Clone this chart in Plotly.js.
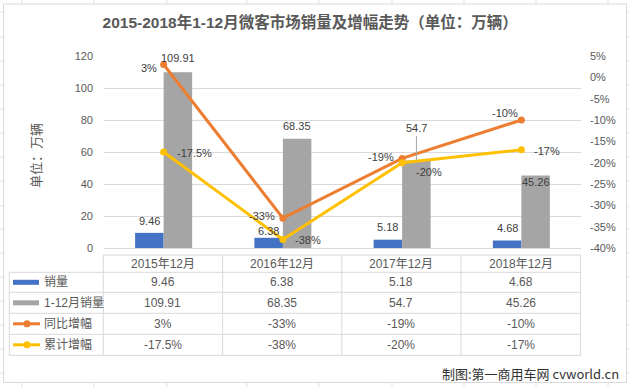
<!DOCTYPE html>
<html>
<head>
<meta charset="utf-8">
<script src="https://cdn.plot.ly/plotly-3.0.1.min.js"></script>
<style>
html,body{margin:0;padding:0;background:#fff;}
#chart{width:629px;height:387px;}
</style>
</head>
<body>
<div id="chart"></div>
<script>
// ---- data ----
const categories = ['2015年12月', '2016年12月', '2017年12月', '2018年12月'];
const sales = [9.46, 6.38, 5.18, 4.68];            // 销量
const ytdSales = [109.91, 68.35, 54.7, 45.26];     // 1-12月销量
const yoyGrowth = [3, -33, -19, -10];              // 同比增幅 (%)
const cumGrowth = [-17.5, -38, -20, -17];          // 累计增幅 (%)
const seriesNames = ['销量', '1-12月销量', '同比增幅', '累计增幅'];
const leftTicks = [0, 20, 40, 60, 80, 100, 120];
const rightTicks = [5, 0, -5, -10, -15, -20, -25, -30, -35, -40];
const chartTitle = '2015-2018年1-12月微客市场销量及增幅走势（单位：万辆）';
const yTitle = '单位：万辆';
const credit = '制图:第一商用车网 cvworld.cn';

// ---- styling / layout helpers ----
const W = 629, H = 387;
const M = {l: 104, r: 48, t: 56, b: 139};
const plotW = W - M.l - M.r, plotH = H - M.t - M.b;
const px = x => (x - M.l) / plotW;
const py = y => (H - M.b - y) / plotH;
const COLORS = ['#4472C4', '#A5A5A5', '#ED7D31', '#FFC000'];
const FONT = 'Liberation Sans, Noto Sans CJK SC, sans-serif';
const CJK = 'Noto Sans CJK SC, Liberation Sans, sans-serif';
const TXT = '#595959', LBL = '#404040', GRID = '#d9d9d9';
const fmtPct = v => v + '%';
const barHalf = 14.3; // px offset of each bar in its group

// label offsets (px) for data labels
const blueOff = [12, 7, 13, 13];
const grayOff = [14, 13, null, -6];
const orangeOff = [[-5, -3, 'right'], [-6, 2, 'right'], [-6, 1, 'right'], [-1, 7, 'right']];
const yellowOff = [[11, -1, 'left'], [10, -1, 'left'], [12, -9, 'left'], [11, -1, 'left']];

const traces = [
  {type: 'bar', name: seriesNames[0], x: categories, y: sales, marker: {color: COLORS[0]}, hoverinfo: 'skip'},
  {type: 'bar', name: seriesNames[1], x: categories, y: ytdSales, marker: {color: COLORS[1]}, hoverinfo: 'skip'},
  {type: 'scatter', mode: 'lines+markers', name: seriesNames[2], x: categories, y: yoyGrowth, yaxis: 'y2',
   line: {color: COLORS[2], width: 3}, marker: {color: COLORS[2], size: 7}, hoverinfo: 'skip'},
  {type: 'scatter', mode: 'lines+markers', name: seriesNames[3], x: categories, y: cumGrowth, yaxis: 'y2',
   line: {color: COLORS[3], width: 3}, marker: {color: COLORS[3], size: 7}, hoverinfo: 'skip'}
];

const annotations = [];
const shapes = [];
const lab = (o) => Object.assign({showarrow: false, font: {family: FONT, size: 11, color: LBL}}, o);

// data labels
categories.forEach((c, i) => {
  annotations.push(lab({x: c, y: sales[i], xref: 'x', yref: 'y', text: String(sales[i]),
    xshift: -barHalf, yshift: blueOff[i], yanchor: 'middle'}));
  if (grayOff[i] === null) {
    annotations.push(lab({x: c, y: ytdSales[i], xref: 'x', yref: 'y', text: String(ytdSales[i]),
      xshift: barHalf, showarrow: true, arrowhead: 0, arrowwidth: 1, arrowcolor: '#a6a6a6',
      ax: 0, ay: -32, standoff: 0}));
  } else {
    annotations.push(lab({x: c, y: ytdSales[i], xref: 'x', yref: 'y', text: String(ytdSales[i]),
      xshift: barHalf, yshift: grayOff[i], yanchor: 'middle'}));
  }
  annotations.push(lab({x: c, y: yoyGrowth[i], xref: 'x', yref: 'y2', text: fmtPct(yoyGrowth[i]),
    xshift: orangeOff[i][0], yshift: orangeOff[i][1], xanchor: orangeOff[i][2], yanchor: 'middle'}));
  annotations.push(lab({x: c, y: cumGrowth[i], xref: 'x', yref: 'y2', text: fmtPct(cumGrowth[i]),
    xshift: yellowOff[i][0], yshift: yellowOff[i][1], xanchor: yellowOff[i][2], yanchor: 'middle'}));
});

// y title
annotations.push({text: yTitle, xref: 'paper', yref: 'paper', x: px(35), y: py(156), textangle: -90,
  showarrow: false, font: {family: CJK, size: 13, color: TXT}, xanchor: 'center', yanchor: 'middle'});

// data table
const colX = [103.3, 222.6, 341.8, 461, 580.5];
const rowY = [255, 272.3, 292.3, 313.3, 334.3, 355.3];
const line = (x0, y0, x1, y1, color, w) => ({type: 'line', xref: 'paper', yref: 'paper',
  x0: px(x0), y0: py(y0), x1: px(x1), y1: py(y1), line: {color: color || GRID, width: w || 1}});
shapes.push(line(colX[0], rowY[0], colX[4], rowY[0]));
for (let r = 1; r < rowY.length; r++) shapes.push(line(9.3, rowY[r], colX[4], rowY[r]));
colX.forEach(x => shapes.push(line(x, rowY[0], x, rowY[5])));
shapes.push(line(9.3, rowY[1], 9.3, rowY[5]));

const rowsData = [sales.map(String), ytdSales.map(String), yoyGrowth.map(fmtPct), cumGrowth.map(fmtPct)];
categories.forEach((c, i) => {
  const cx = (colX[i] + colX[i + 1]) / 2;
  annotations.push({text: c, xref: 'paper', yref: 'paper', x: px(cx), y: py((rowY[0] + rowY[1]) / 2),
    showarrow: false, font: {family: FONT, size: 12, color: TXT}, xanchor: 'center', yanchor: 'middle'});
  rowsData.forEach((row, r) => {
    annotations.push({text: row[i], xref: 'paper', yref: 'paper', x: px(cx), y: py((rowY[r + 1] + rowY[r + 2]) / 2),
      showarrow: false, font: {family: FONT, size: 12, color: TXT}, xanchor: 'center', yanchor: 'middle'});
  });
});
seriesNames.forEach((n, r) => {
  const cy = (rowY[r + 1] + rowY[r + 2]) / 2;
  annotations.push({text: n, xref: 'paper', yref: 'paper', x: px(42), y: py(cy), showarrow: false,
    font: {family: FONT, size: 12, color: TXT}, xanchor: 'left', yanchor: 'middle'});
  if (r < 2) {
    shapes.push({type: 'rect', xref: 'paper', yref: 'paper', x0: px(13), x1: px(39), y0: py(cy - 2.5), y1: py(cy + 2.5),
      fillcolor: COLORS[r], line: {width: 0}});
  } else {
    shapes.push(line(13, cy, 40, cy, COLORS[r], 3));
    shapes.push({type: 'circle', xref: 'paper', yref: 'paper', x0: px(23.5), x1: px(30.5), y0: py(cy - 3.5), y1: py(cy + 3.5),
      fillcolor: COLORS[r], line: {width: 0}});
  }
});

// credit
annotations.push({text: credit, xref: 'paper', yref: 'paper', x: px(621), y: py(373), showarrow: false,
  font: {family: CJK, size: 13, color: '#333333'}, xanchor: 'right', yanchor: 'middle'});

// chart border + sheet grid stubs
shapes.push({type: 'rect', xref: 'paper', yref: 'paper', x0: px(3.5), x1: px(626.5), y0: py(4), y1: py(382.5),
  line: {color: GRID, width: 1}, fillcolor: 'rgba(0,0,0,0)', layer: 'below'});
[22, 94, 167, 247, 319, 392, 464, 536, 608].forEach(x => {
  shapes.push(line(x, 0, x, 3.5, '#e3e3e3'));
  shapes.push(line(x, 383, x, 387, '#e3e3e3'));
});
[12, 37, 61, 85, 109, 133, 157, 181, 206, 229, 253, 277, 301, 325, 349, 373].forEach(y => {
  shapes.push(line(0, y, 3, y, '#e3e3e3'));
  shapes.push(line(627, y, 629, y, '#e3e3e3'));
});

const layout = {
  width: W, height: H, margin: M,
  paper_bgcolor: '#ffffff', plot_bgcolor: '#ffffff',
  showlegend: false,
  barmode: 'group', bargap: 0.522, bargroupgap: 0,
  title: {text: '<b>' + chartTitle + '</b>', xref: 'container', yref: 'container', x: 0.493, y: 1 - 23 / H,
    xanchor: 'center', yanchor: 'middle', font: {family: FONT, size: 15.5, color: TXT}},
  xaxis: {type: 'category', showticklabels: false, showgrid: false, zeroline: false, showline: false,
    range: [-0.5, 3.5], fixedrange: true},
  yaxis: {range: [0, 120], tickvals: leftTicks, showgrid: true, gridcolor: GRID, gridwidth: 1,
    zeroline: true, zerolinecolor: GRID, zerolinewidth: 1, showline: false, ticks: '',
    ticklabelstandoff: 10, tickfont: {family: FONT, size: 11, color: TXT}, fixedrange: true},
  yaxis2: {range: [-40, 5], overlaying: 'y', side: 'right', tickvals: rightTicks, ticktext: rightTicks.map(fmtPct),
    showgrid: false, zeroline: false, showline: false, ticks: '', ticklabelstandoff: 8,
    tickfont: {family: FONT, size: 11, color: TXT}, fixedrange: true},
  annotations: annotations,
  shapes: shapes
};

Plotly.newPlot('chart', traces, layout, {displayModeBar: false, staticPlot: true});
</script>
</body>
</html>
